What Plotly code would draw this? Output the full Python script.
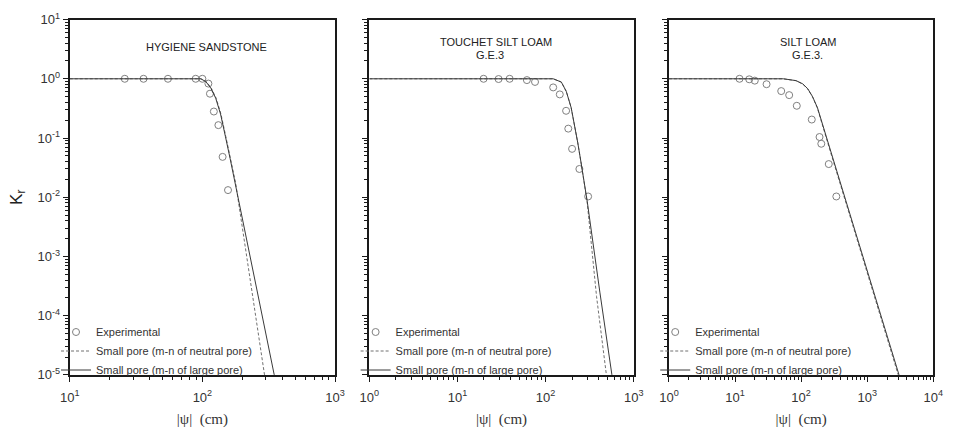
import plotly.graph_objects as go

# ---------------- data ----------------
# Panel 1: HYGIENE SANDSTONE
psi1_exp = [26, 36, 55, 89, 100, 111, 114, 122, 132, 142, 156]
kr1_exp = [1.0, 1.0, 1.0, 1.0, 1.0, 0.83, 0.56, 0.28, 0.165, 0.048, 0.0132]
psi1_neu = [10, 98, 107, 117, 127, 138, 150, 163, 178, 294]
kr1_neu = [1.0, 1.0, 0.90, 0.69, 0.47, 0.254, 0.107, 0.0445, 0.0175, 1e-5]
psi1_lrg = [10, 97, 106, 116, 126, 137, 149, 162, 348]
kr1_lrg = [1.0, 1.0, 0.90, 0.69, 0.47, 0.254, 0.107, 0.0445, 1e-5]

# Panel 2: TOUCHET SILT LOAM G.E.3
psi2_exp = [19.8, 29.3, 39.1, 61.4, 75.9, 122, 145, 171, 181, 200, 242, 304]
kr2_exp = [1.0, 0.99, 1.0, 0.95, 0.885, 0.715, 0.545, 0.288, 0.144, 0.0656, 0.030, 0.0103]
psi2_neu = [1, 122, 151, 172, 195, 213, 232, 252, 275, 296, 379, 490]
kr2_neu = [1.0, 1.0, 0.88, 0.61, 0.327, 0.175, 0.083, 0.0394, 0.0165, 0.0085, 2.1e-4, 1e-5]
psi2_lrg = [1, 122, 151, 172, 195, 213, 232, 252, 275, 297, 413, 566]
kr2_lrg = [1.0, 1.0, 0.88, 0.61, 0.327, 0.175, 0.083, 0.0394, 0.0165, 0.0085, 2.5e-4, 1e-5]

# Panel 3: SILT LOAM G.E.3.
psi3_exp = [11.7, 16.4, 19.9, 30, 50, 66, 86, 145, 190, 202, 262, 341]
kr3_exp = [1.0, 0.98, 0.93, 0.81, 0.62, 0.53, 0.35, 0.205, 0.104, 0.080, 0.0363, 0.0103]
psi3_neu = [1, 53, 83, 105, 125, 148, 176, 209, 262, 2950]
kr3_neu = [1.0, 1.0, 0.93, 0.82, 0.68, 0.50, 0.323, 0.173, 0.0726, 1e-5]
psi3_lrg = [1, 54, 84, 106, 126, 149, 177, 210, 263, 3030]
kr3_lrg = [1.0, 1.0, 0.93, 0.82, 0.68, 0.50, 0.323, 0.173, 0.0726, 1e-5]

titles = [["HYGIENE SANDSTONE"], ["TOUCHET SILT LOAM", "G.E.3"], ["SILT LOAM", "G.E.3."]]
legend_names = ["Experimental", "Small pore (m-n of neutral pore)", "Small pore (m-n of large pore)"]
y_tick_exps = [-5, -4, -3, -2, -1, 0, 1]

# ---------------- layout constants ----------------
W, H = 957, 429
FONT = "Liberation Sans, Arial, sans-serif"
SERIF = "Liberation Serif, Times New Roman, serif"
AX = "#1a1a1a"
panels_px = [(61, 332), (367, 637), (673, 943)]
y_top, y_bot = 11, 381
x_ranges = [(1, 3), (0, 3), (0, 4)]

data = [
    (psi1_exp, kr1_exp, psi1_neu, kr1_neu, psi1_lrg, kr1_lrg),
    (psi2_exp, kr2_exp, psi2_neu, kr2_neu, psi2_lrg, kr2_lrg),
    (psi3_exp, kr3_exp, psi3_neu, kr3_neu, psi3_lrg, kr3_lrg),
]

fig = go.Figure()
layout = dict(
    width=W, height=H, margin=dict(l=0, r=0, t=0, b=0),
    paper_bgcolor="white", plot_bgcolor="white",
    font=dict(family=FONT, color="#222", size=12),
    annotations=[],
)

def minor_vals(lo, hi):
    vals = []
    for e in range(lo, hi):
        for k in range(2, 10):
            vals.append(k * 10 ** e)
    return vals

for i, (px_exp, ky_exp, px_n, ky_n, px_l, ky_l) in enumerate(data):
    n = i + 1
    xa = "x" if n == 1 else f"x{n}"
    ya = "y" if n == 1 else f"y{n}"
    leg = "legend" if n == 1 else f"legend{n}"
    fig.add_trace(go.Scatter(
        x=px_exp, y=ky_exp, mode="markers", name=legend_names[0],
        marker=dict(symbol="circle-open", size=7, color="#808080", line=dict(width=1)),
        xaxis=xa, yaxis=ya, legend=leg))
    fig.add_trace(go.Scatter(
        x=px_n, y=ky_n, mode="lines", name=legend_names[1],
        line=dict(color="#707070", width=1, dash="3px,2px"),
        xaxis=xa, yaxis=ya, legend=leg))
    fig.add_trace(go.Scatter(
        x=px_l, y=ky_l, mode="lines", name=legend_names[2],
        line=dict(color="#3a3a3a", width=1),
        xaxis=xa, yaxis=ya, legend=leg))

    x0, x1 = panels_px[i]
    xr = x_ranges[i]
    xkey = "xaxis" if n == 1 else f"xaxis{n}"
    ykey = "yaxis" if n == 1 else f"yaxis{n}"
    xt = [10 ** e for e in range(xr[0], xr[1] + 1)]
    layout[xkey] = dict(
        type="log", range=list(xr), domain=[x0 / W, x1 / W], anchor=ya,
        showgrid=False, zeroline=False, showline=True, linecolor=AX, linewidth=2,
        mirror=True, ticks="outside", ticklen=5, tickwidth=1.3, tickcolor=AX,
        tickvals=xt, ticktext=[f"10<sup>{e}</sup>" for e in range(xr[0], xr[1] + 1)],
        tickfont=dict(size=13, color="#333", family=FONT),
        ticklabelstandoff=4,
        minor=dict(ticks="outside", ticklen=3, tickwidth=1, tickcolor=AX,
                   tickvals=minor_vals(xr[0], xr[1]), showgrid=False),
        title=dict(text="|ψ|  (cm)", font=dict(family=SERIF, size=15, color="#333"), standoff=10),
    )
    layout[ykey] = dict(
        type="log", range=[-5, 1], domain=[1 - y_bot / H, 1 - y_top / H], anchor=xa,
        showgrid=False, zeroline=False, showline=True, linecolor=AX, linewidth=2,
        mirror=True, ticks="outside", ticklen=5, tickwidth=1.3, tickcolor=AX,
        tickvals=[10 ** e for e in y_tick_exps],
        ticktext=[f"10<sup>{e}</sup>" for e in y_tick_exps],
        showticklabels=(n == 1),
        tickfont=dict(size=13, color="#333", family=FONT),
        minor=dict(ticks="outside", ticklen=3, tickwidth=1, tickcolor=AX,
                   tickvals=minor_vals(-5, 1), showgrid=False),
    )
    if n == 1:
        layout[ykey]["title"] = dict(text="K<sub>r</sub>", font=dict(size=17, color="#222", family=FONT), standoff=11)
    layout[leg] = dict(
        x=(x0 - 14) / W, xanchor="left", y=1 - 391 / H, yanchor="bottom",
        bgcolor="rgba(0,0,0,0)", borderwidth=0,
        font=dict(size=11, color="#333", family=FONT),
        itemwidth=30, tracegroupgap=0,
    )

title_pos = [
    [(200.5, 40)],
    [(496, 34.3), (490, 48.3)],
    [(815.5, 34.3), (815, 48.3)],
]
for lines, poss in zip(titles, title_pos):
    for txt, (px, py) in zip(lines, poss):
        layout["annotations"].append(dict(
            text=txt, x=px / W, y=1 - py / H, xref="paper", yref="paper",
            xanchor="center", yanchor="middle", showarrow=False,
            font=dict(size=11, color="#222", family=FONT)))

fig.update_layout(**layout)
fig.write_html("out.html")
